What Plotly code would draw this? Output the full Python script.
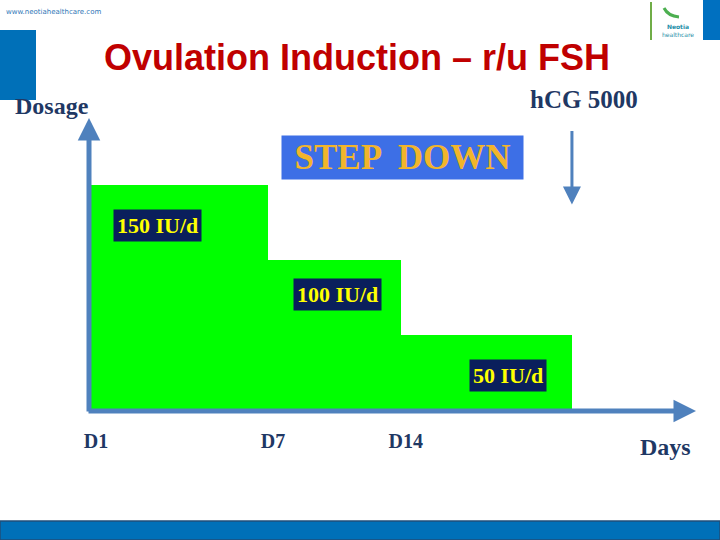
import plotly.graph_objects as go

# step-down FSH regimen
doses = [150, 100, 50]
dose_labels = ['150 IU/d', '100 IU/d', '50 IU/d']
step_start = [0, 6, 10.5]
step_width = [6, 4.5, 5.8]
tick_vals = [0, 6, 10.5]
tick_text = ['D1', 'D7', 'D14']

W, H = 720, 540
NAVY = '#1F3864'
AXIS = '#4F81BD'


def px(x):
    return x / W


def py(y):
    return 1 - y / H


fig = go.Figure()
fig.add_trace(go.Bar(
    x=step_start,
    y=doses,
    width=step_width,
    offset=0,
    marker=dict(color='#00FF00', line=dict(width=0)),
    hoverinfo='skip',
    showlegend=False,
))

# dose labels sit on each step
label_dx = [2.25, 2.36, 3.64]
label_dy = [-27, -23, -27]
for s, d, t, dx, dy in zip(step_start, doses, dose_labels, label_dx, label_dy):
    fig.add_annotation(
        x=s + dx, y=d + dy, xref='x', yref='y', xanchor='center',
        text='<b>' + t + '</b>', showarrow=False,
        font=dict(family='Liberation Serif', size=22, color='#FFFF00'),
        bgcolor='#0A1F5C', borderpad=3,
    )

# axes drawn as arrows (head, then tail offset in pixels)
fig.add_annotation(x=px(89), y=py(118), xref='paper', yref='paper',
                   ax=0, ay=295, text='', showarrow=True,
                   arrowhead=2, arrowsize=0.9, arrowwidth=5, arrowcolor=AXIS)
fig.add_annotation(x=px(696), y=py(411), xref='paper', yref='paper',
                   ax=-609, ay=0, text='', showarrow=True,
                   arrowhead=2, arrowsize=0.9, arrowwidth=5, arrowcolor=AXIS)

# hCG trigger at the end of stimulation
hcg_day = step_start[-1] + step_width[-1]
fig.add_annotation(x=hcg_day, y=137, ax=hcg_day, ay=187, xref='x', yref='y',
                   axref='x', ayref='y', text='', showarrow=True,
                   arrowhead=2, arrowsize=1.2, arrowwidth=3, arrowcolor=AXIS)


def label(x, y, text, size, color, family='Liberation Serif', **kw):
    fig.add_annotation(x=px(x), y=py(y), xref='paper', yref='paper',
                       xanchor='center', yanchor='middle', text=text,
                       showarrow=False, font=dict(family=family, size=size, color=color), **kw)


label(357, 58, '<b>Ovulation Induction – r/u FSH</b>', 36, '#C00000', 'Liberation Sans')
label(52, 106, '<b>Dosage</b>', 24, NAVY)
label(584, 100, '<b>hCG 5000</b>', 25, NAVY)
label(665, 447, '<b>Days</b>', 24, NAVY)
label(402, 157, '<b>STEP  DOWN</b>', 35, '#F2B52B', width=237, height=39,
      bgcolor='#3D6FE6', borderpad=2)
label(53, 12, 'www.neotiahealthcare.com', 7, '#2E75B6', 'DejaVu Sans')
label(678, 30, '<b>Neotia</b><br>healthcare', 6, '#1F8FA8', 'DejaVu Sans')

# slide decorations
fig.add_shape(type='rect', xref='paper', yref='paper', x0=px(0), x1=px(36),
              y0=py(100), y1=py(30), fillcolor='#0070B8', line=dict(width=0))
fig.add_shape(type='rect', xref='paper', yref='paper', x0=px(703), x1=px(720),
              y0=py(40), y1=py(0), fillcolor='#0070C0', line=dict(width=0))
fig.add_shape(type='line', xref='paper', yref='paper', x0=px(651), x1=px(651),
              y0=py(40), y1=py(2), line=dict(color='#70AD47', width=2))
fig.add_shape(type='path', xref='paper', yref='paper',
              path='M %f,%f Q %f,%f %f,%f' % (px(664), py(8), px(668), py(16), px(679), py(17)),
              line=dict(color='#4CAF50', width=3))
fig.add_shape(type='rect', xref='paper', yref='paper', x0=0, x1=1,
              y0=0, y1=py(521), fillcolor='#0070B8', line=dict(color='#1F4E79', width=1.5))

fig.update_layout(
    width=W, height=H, autosize=False,
    margin=dict(l=0, r=0, t=0, b=0, pad=0),
    plot_bgcolor='white', paper_bgcolor='white',
    bargap=0,
    xaxis=dict(
        domain=[px(91), px(700)], range=[0, 20.64],
        tickvals=tick_vals, ticktext=['<b>' + t + '</b>' for t in tick_text],
        ticks='outside', ticklen=13, tickcolor='rgba(0,0,0,0)',
        ticklabelshift=5,
        tickfont=dict(family='Liberation Serif', size=20, color=NAVY),
        showgrid=False, zeroline=False, showline=False, automargin=False,
    ),
    yaxis=dict(
        domain=[1 - 410 / H, 1 - 110 / H], range=[0, 200],
        showticklabels=False, showgrid=False, zeroline=False, showline=False,
        automargin=False,
    ),
)

fig.write_html('out.html', config={'displayModeBar': False, 'responsive': False},
               post_script="document.body.style.margin='0';document.body.style.overflow='hidden';")
